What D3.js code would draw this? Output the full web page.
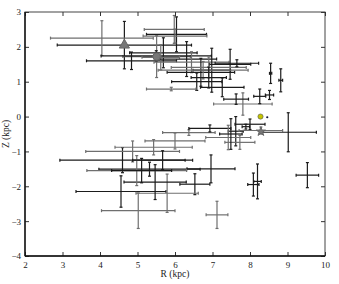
<!DOCTYPE html>
<html>
<head>
<meta charset="utf-8">
<script src="https://cdn.jsdelivr.net/npm/d3@7"></script>
<style>
  body { margin: 0; background: #fff; }
  svg text { font-family: "Liberation Serif", "DejaVu Serif", serif; }
</style>
</head>
<body>
<div class="viz"></div>
<script>
const width = 339, height = 284;
const margin = { top: 12, right: 14, bottom: 28, left: 25 };

// tick values
const xTicks = [2, 3, 4, 5, 6, 7, 8, 9, 10];
const yTicks = [-4, -3, -2, -1, 0, 1, 2, 3];

// measurements: R, error in R, Z, error in Z, shade (k = black, g = grey)
const rVals = [4.65, 4.05, 5.51, 5.5, 4.84, 5.98, 6.04, 6.0, 5.69, 5.62, 6.31, 6.44, 6.69, 6.98, 7.47, 6.9, 6.75, 6.9, 6.58, 7.26, 5.9, 7.81, 7.63, 8.26, 8.52, 8.55, 8.82, 7.65,
  9.02, 9.53, 7.12, 8.09, 8.2, 6.53, 6.96, 4.56, 5.02, 5.79, 5.47, 4.6, 4.87, 5.43, 5.32, 4.98, 5.11, 5.67, 6.0, 6.37, 6.93, 7.62, 7.73, 8.0, 7.42, 8.29, 7.49, 7.89];
const rErr = [1.79, 1.37, 0.9, 1.47, 1.2, 0.8, 0.8, 0.85, 0.9, 0.5, 0.8, 1.0, 0.9, 0.5, 0.55, 1.0, 1.2, 0.47, 0.67, 0.58, 0.66, 0.78, 0.33, 0.16, 0.11, 0.03, 0.05, 0.58,
  0.75, 0.3, 0.29, 0.15, 0.1, 0.4, 0.64, 1.2, 0.98, 0.83, 0.83, 1.67, 1.25, 1.03, 1.35, 1.33, 0.8, 0.8, 0.8, 0.7, 0.56, 0.2, 0.4, 0.4, 0.6, 0.58, 0.3, 0.1];
const zVals = [2.05, 2.25, 1.72, 1.74, 1.6, 2.5, 2.36, 2.31, 1.83, 1.7, 1.65, 1.56, 1.27, 1.33, 1.5, 1.41, 1.33, 1.12, 1.0, 0.84, 0.79, 0.36, 0.5, 0.58, 0.62, 1.24, 1.04, 1.53,
  -0.45, -1.68, -2.82, -1.95, -1.86, -1.94, -1.5, -2.15, -2.7, -2.2, -1.88, -1.25, -1.0, -0.88, -1.51, -1.55, -1.55, -1.25, -0.7, -0.46, -0.34, -0.42, -0.74, -0.22, -0.6, -0.4, -0.5, -0.29];
const zErr = [0.68, 0.5, 0.6, 0.15, 0.25, 0.4, 0.5, 0.2, 0.43, 0.36, 0.5, 0.3, 0.4, 0.63, 0.43, 0.3, 0.25, 0.3, 0.25, 0.27, 0.05, 0.32, 0.15, 0.21, 0.13, 0.29, 0.33, 0.1,
  0.56, 0.36, 0.39, 0.33, 0.5, 0.3, 0.4, 0.45, 0.51, 0.55, 0.5, 0.36, 0.3, 0.22, 0.2, 0.43, 0.35, 0.27, 0.23, 0.08, 0.1, 0.42, 0.2, 0.15, 0.35, 0.1, 0.44, 0.07];
const shade = ["k", "g", "g", "k", "k", "g", "k", "g", "k", "g", "k", "g", "k", "k", "k", "g", "g", "k", "k", "k", "g", "g", "k", "k", "k", "k", "k", "k",
  "k", "k", "g", "k", "k", "k", "k", "k", "g", "g", "k", "k", "g", "g", "k", "g", "k", "k", "g", "g", "k", "k", "g", "k", "g", "g", "k", "k"];

// special markers
const markerNames = ["triangle", "circle", "sun", "dot", "star"];
const markerR = [4.65, 5.51, 8.28, 8.46, 8.29];
const markerZ = [2.05, 1.72, 0.0, -0.02, -0.43];

const data = rVals.map((r, i) => ({ r, re: rErr[i], z: zVals[i], ze: zErr[i], c: shade[i] }));

const svg = d3.select(".viz").append("svg").attr("width", width).attr("height", height);

const x = d3.scaleLinear().domain([2, 10]).range([margin.left, width - margin.right]);
const y = d3.scaleLinear().domain([-4, 3]).range([height - margin.bottom, margin.top]);

const colour = (c) => (c === "k" ? "#1b1b1b" : "#6f6f6f");
const cap = 1.5;

// error bars
const bars = svg.append("g").attr("class", "errbars").attr("stroke-width", 1.2).attr("fill", "none");
const eb = bars.selectAll("g").data(data).join("g").attr("stroke", (d) => colour(d.c));
eb.append("line")
  .attr("x1", (d) => x(d.r - d.re)).attr("x2", (d) => x(d.r + d.re))
  .attr("y1", (d) => y(d.z)).attr("y2", (d) => y(d.z));
eb.append("line")
  .attr("x1", (d) => x(d.r)).attr("x2", (d) => x(d.r))
  .attr("y1", (d) => y(d.z - d.ze)).attr("y2", (d) => y(d.z + d.ze));
// caps
eb.each(function (d) {
  const g = d3.select(this);
  [d.r - d.re, d.r + d.re].forEach((v) => {
    g.append("line").attr("x1", x(v)).attr("x2", x(v)).attr("y1", y(d.z) - cap).attr("y2", y(d.z) + cap);
  });
  [d.z - d.ze, d.z + d.ze].forEach((v) => {
    g.append("line").attr("y1", y(v)).attr("y2", y(v)).attr("x1", x(d.r) - cap).attr("x2", x(d.r) + cap);
  });
});

// markers
const marks = svg.append("g").attr("class", "markers");
markerNames.forEach((name, i) => {
  const cx = x(markerR[i]), cy = y(markerZ[i]);
  if (name === "triangle") {
    marks.append("path").attr("d", d3.symbol(d3.symbolTriangle, 45)())
      .attr("transform", `translate(${cx},${cy})`).attr("fill", "#777").attr("stroke", "#666");
  } else if (name === "circle") {
    marks.append("circle").attr("cx", cx).attr("cy", cy).attr("r", 3.8).attr("fill", "#777").attr("stroke", "#666");
  } else if (name === "sun") {
    marks.append("circle").attr("cx", cx).attr("cy", cy).attr("r", 2.6).attr("fill", "#c4c400").attr("stroke", "#555").attr("stroke-width", 0.6);
  } else if (name === "dot") {
    marks.append("circle").attr("cx", cx).attr("cy", cy).attr("r", 1.1).attr("fill", "#15153a");
  } else {
    marks.append("path").attr("d", d3.symbol(d3.symbolStar, 26)())
      .attr("transform", `translate(${cx},${cy})`).attr("fill", "#777").attr("stroke", "#666");
  }
});

// frame
svg.append("rect")
  .attr("x", x(2)).attr("y", y(3))
  .attr("width", x(10) - x(2)).attr("height", y(-4) - y(3))
  .attr("fill", "none").attr("stroke", "#444").attr("stroke-width", 1);

// axes, ticks inside, mirrored
const xAxis = d3.axisBottom(x).tickValues(xTicks).tickSize(-4).tickPadding(7).tickFormat(d3.format("d"));
const yAxis = d3.axisLeft(y).tickValues(yTicks).tickSize(-4).tickPadding(4).tickFormat((d) => (d < 0 ? "\u2212" + -d : d));

const gx = svg.append("g").attr("transform", `translate(0,${y(-4)})`).call(xAxis);
const gy = svg.append("g").attr("transform", `translate(${x(2)},0)`).call(yAxis);
svg.append("g").attr("transform", `translate(0,${y(3)})`).call(d3.axisTop(x).tickValues(xTicks).tickSize(-4).tickFormat(""));
svg.append("g").attr("transform", `translate(${x(10)},0)`).call(d3.axisRight(y).tickValues(yTicks).tickSize(-4).tickFormat(""));

svg.selectAll(".domain").remove();
svg.selectAll(".tick line").attr("stroke", "#333");
svg.selectAll(".tick text").attr("font-size", 9).attr("fill", "#222");
gx.selectAll(".tick text").attr("dy", "0.5em");

svg.append("line").attr("x1", x(2)).attr("x2", x(10)).attr("y1", y(-4)).attr("y2", y(-4)).attr("stroke", "#111").attr("stroke-width", 1.4);
svg.append("line").attr("x1", x(2)).attr("x2", x(2)).attr("y1", y(3)).attr("y2", y(-4)).attr("stroke", "#111").attr("stroke-width", 1.4);

// axis labels
svg.append("text").attr("x", (x(2) + x(10)) / 2).attr("y", 277)
  .attr("text-anchor", "middle").attr("font-size", 9.5).attr("fill", "#222").text("R (kpc)");
svg.append("text").attr("transform", `translate(9,${(y(3) + y(-4)) / 2}) rotate(-90)`)
  .attr("text-anchor", "middle").attr("font-size", 9.5).attr("fill", "#222").text("Z (kpc)");
</script>
</body>
</html>
